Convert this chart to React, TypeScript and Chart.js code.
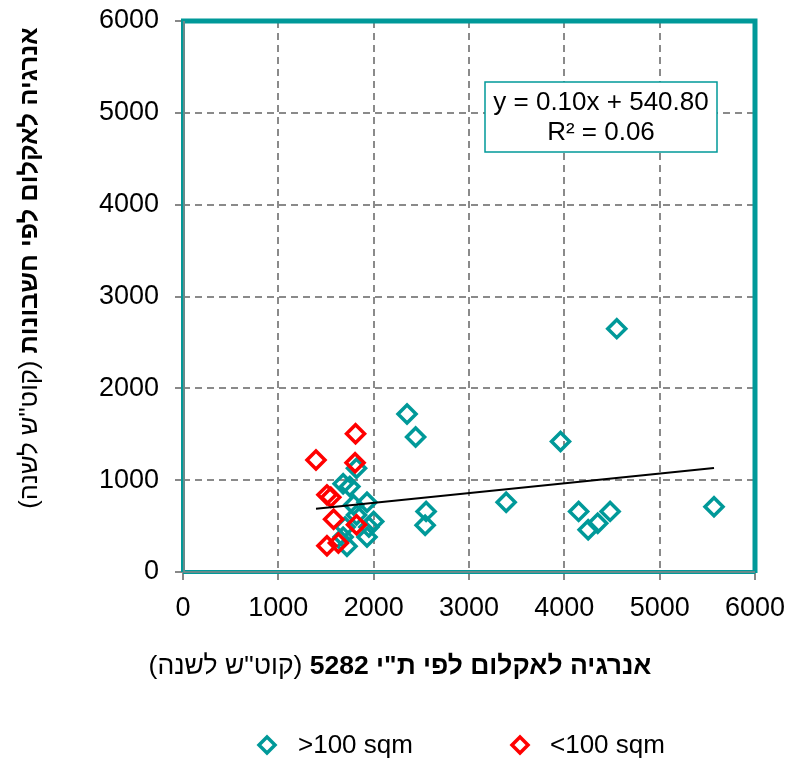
import React, { useEffect, useRef } from 'react';
import { Chart, registerables } from 'chart.js';
Chart.register(...registerables);

// >100 sqm
const bigX = [4550, 2350, 2440, 3960, 3390, 5570, 2550, 2540, 4150, 4480, 4350, 4250, 1820, 1680, 1750, 1930, 1790, 1820, 2000, 1950, 1930, 1700, 1680, 1720];
const bigY = [2650, 1720, 1470, 1420, 760, 710, 660, 510, 660, 660, 530, 460, 1130, 960, 930, 760, 730, 620, 550, 490, 380, 490, 380, 280];
// <100 sqm
const smallX = [1395, 1810, 1805, 1510, 1550, 1580, 1820, 1630, 1510];
const smallY = [1220, 1505, 1190, 840, 815, 575, 515, 315, 285];

const seriesLabels = ['>100 sqm', '<100 sqm'];
const trendSlope = 0.1063;
const trendIntercept = 540.8;
const equationLines = ['y = 0.10x + 540.80', 'R² = 0.06'];
const xTitleBold = 'אנרגיה לאקלום לפי ת"י 5282';
const xTitleNormal = '(קוט"ש לשנה)';
const yTitleBold = 'אנרגיה לאקלום לפי חשבונות';
const yTitleNormal = '(קוט"ש לשנה)';

const TEAL = '#009999';
const RED = '#ff0000';
const FONT = '"Liberation Sans", Arial, sans-serif';

function drawMixed(ctx: CanvasRenderingContext2D, cx: number, cy: number, bold: string, normal: string, size: number) {
  ctx.save();
  ctx.direction = 'rtl';
  ctx.textBaseline = 'middle';
  ctx.fillStyle = '#000';
  ctx.font = `bold ${size}px ${FONT}`;
  const wB = ctx.measureText(bold).width;
  const wS = ctx.measureText(' ').width;
  ctx.font = `${size}px ${FONT}`;
  const wN = ctx.measureText(normal).width;
  const total = wB + wS + wN;
  const right = cx + total / 2;
  ctx.textAlign = 'right';
  ctx.font = `bold ${size}px ${FONT}`;
  ctx.fillText(bold, right, cy);
  ctx.font = `${size}px ${FONT}`;
  ctx.fillText(normal, right - wB - wS, cy);
  ctx.restore();
}

function diamond(ctx: CanvasRenderingContext2D, x: number, y: number, r: number, color: string) {
  ctx.save();
  ctx.strokeStyle = color;
  ctx.lineWidth = 3.5;
  ctx.beginPath();
  ctx.moveTo(x - r, y);
  ctx.lineTo(x, y - r);
  ctx.lineTo(x + r, y);
  ctx.lineTo(x, y + r);
  ctx.closePath();
  ctx.stroke();
  ctx.restore();
}

export default function App() {
  const ref = useRef<HTMLCanvasElement>(null);
  useEffect(() => {
    const canvas = ref.current!;
    const allX = [...bigX, ...smallX];
    const xmin = Math.min(...allX);
    const xmax = Math.max(...allX);

    const overlay = {
      id: 'overlay',
      afterDraw(chart: any) {
        const ctx = chart.ctx as CanvasRenderingContext2D;
        const a = chart.chartArea;
        ctx.save();
        // plot border
        ctx.strokeStyle = TEAL;
        ctx.lineWidth = 4;
        ctx.beginPath();
        ctx.moveTo(a.left, a.bottom);
        ctx.lineTo(a.left, a.top);
        ctx.moveTo(a.right, a.bottom);
        ctx.lineTo(a.left, a.bottom);
        ctx.stroke();
        ctx.lineWidth = 5;
        ctx.beginPath();
        ctx.moveTo(a.left - 2, a.top);
        ctx.lineTo(a.right, a.top);
        ctx.lineTo(a.right, a.bottom + 1);
        ctx.stroke();
        ctx.strokeStyle = '#888';
        ctx.lineWidth = 1.5;
        ctx.beginPath();
        ctx.moveTo(a.left + 1, a.top);
        ctx.lineTo(a.left + 1, a.bottom);
        ctx.lineTo(a.right, a.bottom);
        ctx.stroke();
        // equation box
        const bx = 485, by = 82, bw = 232, bh = 70;
        ctx.fillStyle = '#fff';
        ctx.fillRect(bx, by, bw, bh);
        ctx.strokeStyle = TEAL;
        ctx.lineWidth = 1.5;
        ctx.strokeRect(bx, by, bw, bh);
        ctx.fillStyle = '#000';
        ctx.font = `26px ${FONT}`;
        ctx.textAlign = 'center';
        ctx.textBaseline = 'middle';
        ctx.fillText(equationLines[0], bx + bw / 2, by + 21);
        ctx.fillText(equationLines[1], bx + bw / 2, by + 51);
        ctx.restore();

        // titles
        drawMixed(ctx, 400, 667, xTitleBold, xTitleNormal, 26.5);
        ctx.save();
        ctx.translate(30, 268);
        ctx.rotate(-Math.PI / 2);
        drawMixed(ctx, 0, 0, yTitleBold, yTitleNormal, 25.5);
        ctx.restore();

        // legend
        diamond(ctx, 267, 745, 8, TEAL);
        diamond(ctx, 520, 745, 8, RED);
        ctx.save();
        ctx.fillStyle = '#000';
        ctx.font = `26px ${FONT}`;
        ctx.textAlign = 'left';
        ctx.textBaseline = 'middle';
        ctx.fillText(seriesLabels[0], 298, 746);
        ctx.fillText(seriesLabels[1], 550, 746);
        ctx.restore();
      },
    };

    const tickFont = { family: FONT, size: 27 };
    const gridOpts: any = { color: '#8a8a8a', lineWidth: 2, tickLength: 8, tickColor: '#888', tickBorderDash: [] };
    const borderOpts: any = { display: false, dash: [7, 5] };

    const chart = new Chart(canvas, {
      type: 'scatter',
      data: {
        datasets: [
          {
            type: 'line',
            label: 'trend',
            data: [
              { x: xmin, y: trendSlope * xmin + trendIntercept },
              { x: xmax, y: trendSlope * xmax + trendIntercept },
            ],
            borderColor: '#000',
            borderWidth: 2,
            pointRadius: 0,
            fill: false,
            order: 0,
          } as any,
          {
            label: seriesLabels[1],
            data: smallX.map((x, i) => ({ x, y: smallY[i] })),
            pointStyle: 'rectRot',
            pointRadius: 9,
            pointBorderWidth: 3.5,
            borderColor: RED,
            backgroundColor: 'rgba(0,0,0,0)',
            order: 1,
          },
          {
            label: seriesLabels[0],
            data: bigX.map((x, i) => ({ x, y: bigY[i] })),
            pointStyle: 'rectRot',
            pointRadius: 9,
            pointBorderWidth: 3.5,
            borderColor: TEAL,
            backgroundColor: 'rgba(0,0,0,0)',
            order: 2,
          },
        ],
      },
      options: {
        responsive: false,
        animation: false,
        devicePixelRatio: 1,
        layout: { padding: { left: 0, top: 21, right: 41, bottom: 0 } },
        plugins: { legend: { display: false }, tooltip: { enabled: false } },
        scales: {
          x: {
            type: 'linear',
            min: 0,
            max: 6000,
            afterFit: (s: any) => { s.height = 187; s.paddingLeft = 0; s.paddingRight = 0; },
            ticks: { stepSize: 1000, color: '#000', font: tickFont, padding: 12, maxRotation: 0, callback: (v: any) => String(v) },
            grid: gridOpts,
            border: borderOpts,
          },
          y: {
            type: 'linear',
            min: 0,
            max: 6000,
            afterFit: (s: any) => { s.width = 183; s.paddingTop = 0; s.paddingBottom = 0; },
            ticks: { stepSize: 1000, color: '#000', font: tickFont, padding: 16, callback: (v: any) => String(v) },
            grid: gridOpts,
            border: borderOpts,
          },
        },
      },
      plugins: [overlay],
    });
    return () => chart.destroy();
  }, []);
  return (
    <div style={{ position: 'absolute', left: 0, top: 0, width: 796, height: 759, background: '#fff' }}>
      <canvas ref={ref} width={796} height={759} />
    </div>
  );
}
